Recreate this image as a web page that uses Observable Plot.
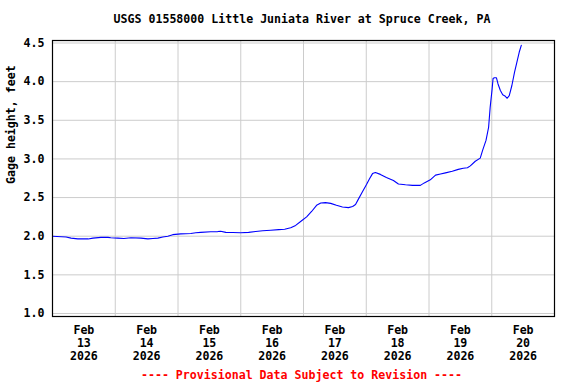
<!DOCTYPE html>
<html><head><meta charset="utf-8">
<script src="https://cdn.jsdelivr.net/npm/d3@7"></script>
<script src="https://cdn.jsdelivr.net/npm/@observablehq/plot@0.6"></script>
<style>html,body{margin:0;padding:0;background:#fff}</style>
</head><body><div id="chart"></div>
<script>
const title = "USGS 01558000 Little Juniata River at Spruce Creek, PA";
const caption = "---- Provisional Data Subject to Revision ----";
const yLabel = "Gage height, feet";
const dayLabels = ["13", "14", "15", "16", "17", "18", "19", "20"];
const monthLabel = "Feb";
const yearLabel = "2026";
const yTicks = [1.0, 1.5, 2.0, 2.5, 3.0, 3.5, 4.0, 4.5];
// hours since Feb 13 2026 00:00
const hours = [0, 5.2, 7.1, 9.7, 13.6, 15.5, 18.5, 21.2, 22.3, 25.0, 27.3, 30.0, 33.8, 36.5, 38.4, 40.3, 42.2, 44.1, 46.0, 49.1,
  52.9, 54.8, 56.7, 60.5, 63.2, 64.3, 66.3, 68.9, 72.0, 75.0, 77.7, 80.4, 83.5, 86.5, 88.8, 91.1, 93.0, 94.9, 97.2, 99.1,
  101.0, 102.6, 104.4, 106.4, 108.6, 110.9, 113.2, 114.8, 115.9, 117.0, 118.6, 120.1, 121.2, 122.4, 123.5, 125.4, 127.7, 130.4, 132.3, 135.0,
  137.7, 140.7, 142.2, 144.5, 146.5, 148.4, 150.3, 152.9, 155.2, 157.1, 158.7, 159.8, 161.7, 163.6, 164.5, 165.8, 166.8, 167.4, 168.1, 168.5,
  169.0, 169.8, 170.4, 171.3, 172.2, 173.2, 173.9, 174.7, 175.7, 176.7, 177.6, 178.5, 179.3];
const gage = [2.00, 1.99, 1.975, 1.965, 1.965, 1.975, 1.985, 1.985, 1.98, 1.975, 1.97, 1.98, 1.975, 1.965, 1.97, 1.975, 1.99, 2.00, 2.02, 2.03,
  2.035, 2.045, 2.05, 2.057, 2.06, 2.065, 2.05, 2.048, 2.045, 2.05, 2.06, 2.07, 2.078, 2.085, 2.09, 2.11, 2.14, 2.19, 2.25, 2.32,
  2.40, 2.43, 2.435, 2.425, 2.40, 2.378, 2.37, 2.385, 2.41, 2.48, 2.58, 2.67, 2.74, 2.81, 2.825, 2.80, 2.76, 2.72, 2.675, 2.665,
  2.658, 2.658, 2.69, 2.73, 2.79, 2.805, 2.82, 2.84, 2.865, 2.88, 2.885, 2.91, 2.97, 3.01, 3.11, 3.24, 3.41, 3.67, 3.89, 4.04,
  4.05, 4.05, 3.97, 3.885, 3.83, 3.81, 3.785, 3.82, 3.95, 4.12, 4.25, 4.38, 4.47];

const start = Date.UTC(2026, 1, 13);
const H = 3600e3, D = 24 * H;
const data = hours.map((h, i) => ({t: new Date(start + h * H), v: gage[i]}));
const gridDates = dayLabels.slice(1).map((d, i) => new Date(start + (i + 1) * D));
const labelDays = dayLabels.map((d, i) => ({t: new Date(start + i * D + 12 * H), text: `${monthLabel}\n${d}\n${yearLabel}`}));

const font = "DejaVu Sans Mono";
const fs = 11.6;
const chart = Plot.plot({
  width: 576, height: 384,
  marginLeft: 52, marginRight: 22, marginTop: 40, marginBottom: 68,
  style: {fontFamily: font, fontWeight: "bold", fontSize: fs + "px", background: "#fff", color: "#000"},
  x: {type: "utc", domain: [new Date(start), new Date(start + 8 * D)], axis: null},
  y: {domain: [1, 4.5], insetTop: 2.5, insetBottom: 3, axis: null},
  marks: [
    Plot.ruleY(yTicks, {stroke: "#cccccc", strokeWidth: 1}),
    Plot.ruleX(gridDates, {stroke: "#cccccc", strokeWidth: 1}),
    Plot.line(data, {x: "t", y: "v", stroke: "#0000ff", strokeWidth: 1.1}),
    Plot.frame({stroke: "#000", strokeWidth: 1.2}),
    Plot.axisY(yTicks, {tickSize: 0, tickPadding: 8, tickFormat: d => d.toFixed(1), label: null, fontWeight: "bold", fill: "#000", fontSize: fs}),
    Plot.text([yLabel], {text: d => d, frameAnchor: "left", rotate: -90, dx: -41, dy: 5.5, fontWeight: "bold", fill: "#000", fontSize: fs}),
    Plot.text(labelDays, {x: "t", text: "text", frameAnchor: "bottom", dy: 26.7, lineAnchor: "middle", lineHeight: 1.107, fontWeight: "bold", fill: "#000", fontSize: fs}),
    Plot.text([title], {text: d => d, frameAnchor: "top", dy: -21, dx: -1.5, lineAnchor: "middle", fontWeight: "bold", fill: "#000", fontSize: fs}),
    Plot.text([caption], {text: d => d, frameAnchor: "bottom", dy: 59, dx: -2, lineAnchor: "middle", fontWeight: "bold", fill: "#ff0000", fontSize: fs})
  ]
});
document.getElementById("chart").append(chart);
</script>
</body></html>
